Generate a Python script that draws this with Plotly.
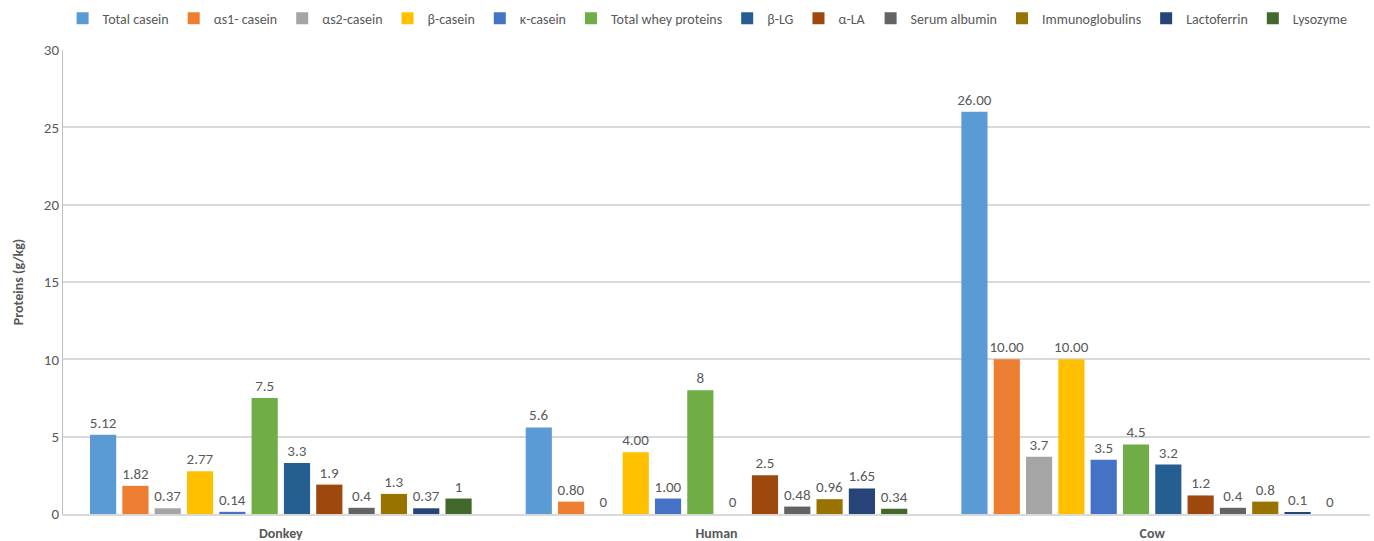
import plotly.graph_objects as go

categories = ["Donkey", "Human", "Cow"]
series_names = ["Total casein", "αs1- casein", "αs2-casein", "β-casein", "κ-casein",
                "Total whey proteins", "β-LG", "α-LA", "Serum albumin",
                "Immunoglobulins", "Lactoferrin", "Lysozyme"]
colors = ["#5B9BD5", "#ED7D31", "#A5A5A5", "#FFC000", "#4472C4", "#70AD47",
          "#255E91", "#9E480E", "#636363", "#997300", "#264478", "#43682B"]

donkey = [5.12, 1.82, 0.37, 2.77, 0.14, 7.5, 3.3, 1.9, 0.4, 1.3, 0.37, 1]
human = [5.6, 0.80, 0, 4.00, 1.00, 8, 0, 2.5, 0.48, 0.96, 1.65, 0.34]
cow = [26.00, 10.00, 3.7, 10.00, 3.5, 4.5, 3.2, 1.2, 0.4, 0.8, 0.1, 0]

donkey_labels = ["5.12", "1.82", "0.37", "2.77", "0.14", "7.5", "3.3", "1.9", "0.4", "1.3", "0.37", "1"]
human_labels = ["5.6", "0.80", "0", "4.00", "1.00", "8", "0", "2.5", "0.48", "0.96", "1.65", "0.34"]
cow_labels = ["26.00", "10.00", "3.7", "10.00", "3.5", "4.5", "3.2", "1.2", "0.4", "0.8", "0.1", "0"]

font_family = "Carlito, Liberation Sans Narrow, Open Sans, sans-serif"
grey = "#595959"

fig = go.Figure()
for i, name in enumerate(series_names):
    fig.add_trace(go.Bar(
        x=categories,
        y=[donkey[i], human[i], cow[i]],
        name=name,
        marker=dict(color=colors[i], line=dict(width=0)),
        text=[donkey_labels[i], human_labels[i], cow_labels[i]],
        texttemplate="%{text}",
        textposition="outside",
        constraintext="none",
        textfont=dict(size=15, color=grey, family=font_family),
        cliponaxis=False,
    ))

fig.update_layout(
    width=1374, height=541,
    barmode="group",
    bargap=0.11,
    bargroupgap=0.19,
    plot_bgcolor="white",
    paper_bgcolor="white",
    margin=dict(l=63, r=4, t=50, b=27),
    font=dict(family=font_family, color=grey),
    legend=dict(orientation="h", xref="container", x=0.515, xanchor="center",
                yref="container", y=0.995, yanchor="top",
                font=dict(size=14, color=grey, family=font_family),
                itemwidth=30, tracegroupgap=0, traceorder="normal"),
    showlegend=True,
)

fig.update_xaxes(
    showline=True, linecolor="#D9D9D9", linewidth=1.5,
    tickfont=dict(size=14, color=grey, family=font_family, weight="bold"),
    ticks="", ticklabelstandoff=5, automargin=False,
)
fig.update_yaxes(
    range=[0, 30], dtick=5,
    showgrid=True, gridcolor="#D9D9D9", gridwidth=1.5,
    showline=True, linecolor="#BFBFBF", linewidth=1,
    zeroline=False,
    tickfont=dict(size=15, color=grey, family=font_family),
    ticks="", ticklen=0,
    title=dict(text="<b>Proteins (g/kg)</b>", font=dict(size=14, color=grey, family=font_family), standoff=16),
)

fig.write_html("out.html")
